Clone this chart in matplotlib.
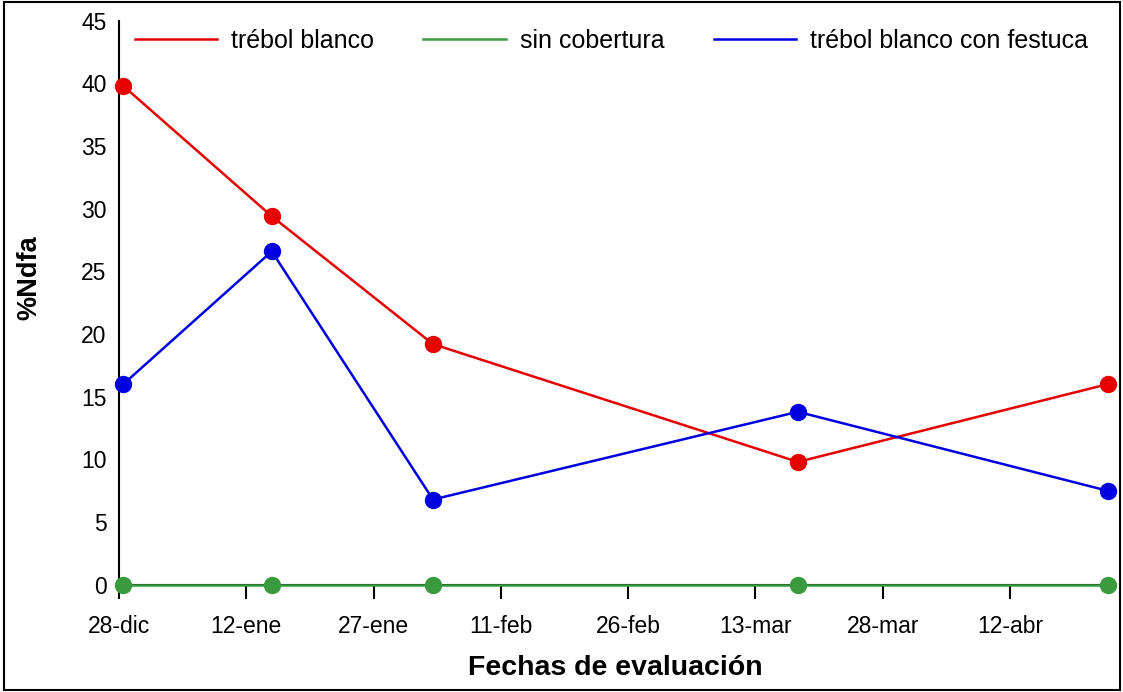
import matplotlib
matplotlib.use("Agg")
import matplotlib.pyplot as plt
from matplotlib.patches import Rectangle

plt.rcParams['font.family'] = ['Liberation Sans', 'DejaVu Sans']

# days after 28-dic
dias = [0.5, 18, 37, 80, 116.5]
trebol_blanco = [39.8, 29.4, 19.2, 9.8, 16.0]
sin_cobertura = [0.0, 0.0, 0.0, 0.0, 0.0]
trebol_festuca = [16.0, 26.6, 6.8, 13.8, 7.5]

tick_dias = [0, 15, 30, 45, 60, 75, 90, 105]
tick_labels = ['28-dic', '12-ene', '27-ene', '11-feb', '26-feb', '13-mar', '28-mar', '12-abr']
yticks = [0, 5, 10, 15, 20, 25, 30, 35, 40, 45]

fig = plt.figure(figsize=(11.23, 6.92), dpi=100)
ax = fig.add_axes([0.106, 0.155, 0.884, 0.815])

series = [
    (trebol_blanco, '#e60000', 'trébol blanco'),
    (sin_cobertura, '#3a9a3e', 'sin cobertura'),
    (trebol_festuca, '#0000e0', 'trébol blanco con festuca'),
]
for vals, col, lab in series:
    ax.plot(dias, vals, color=col, lw=1.8, marker='o', ms=11.5, label=lab,
            clip_on=False, zorder=3)

ax.set_xlim(0, 117)
ax.set_ylim(0, 45)
ax.set_xticks(tick_dias)
ax.set_xticklabels(tick_labels)
ax.set_yticks(yticks)
ax.tick_params(axis='x', direction='out', length=10, width=1.5, labelsize=16.5, pad=12)
ax.tick_params(axis='y', length=0, labelsize=16.5, pad=9)
for s in ['top', 'right']:
    ax.spines[s].set_visible(False)
ax.spines['left'].set_linewidth(1.5)
ax.spines['bottom'].set_linewidth(1.5)

ax.set_xlabel('Fechas de evaluación', fontsize=20.5, fontweight='bold', labelpad=12)
ax.set_ylabel('%Ndfa', fontsize=19.5, fontweight='bold')
ax.yaxis.set_label_coords(-0.077, 0.545)

leg = ax.legend(loc='upper left', bbox_to_anchor=(-0.007, 1.025), ncol=3, frameon=False,
                fontsize=18, handlelength=3.3, handletextpad=0.55, columnspacing=1.98)
for h in leg.legend_handles:
    h.set_marker('')

fig.patches.append(Rectangle((0.004, 0.003), 0.993, 0.994, transform=fig.transFigure,
                             fill=False, edgecolor='black', lw=1.5))

fig.savefig('out.png', dpi=100)
